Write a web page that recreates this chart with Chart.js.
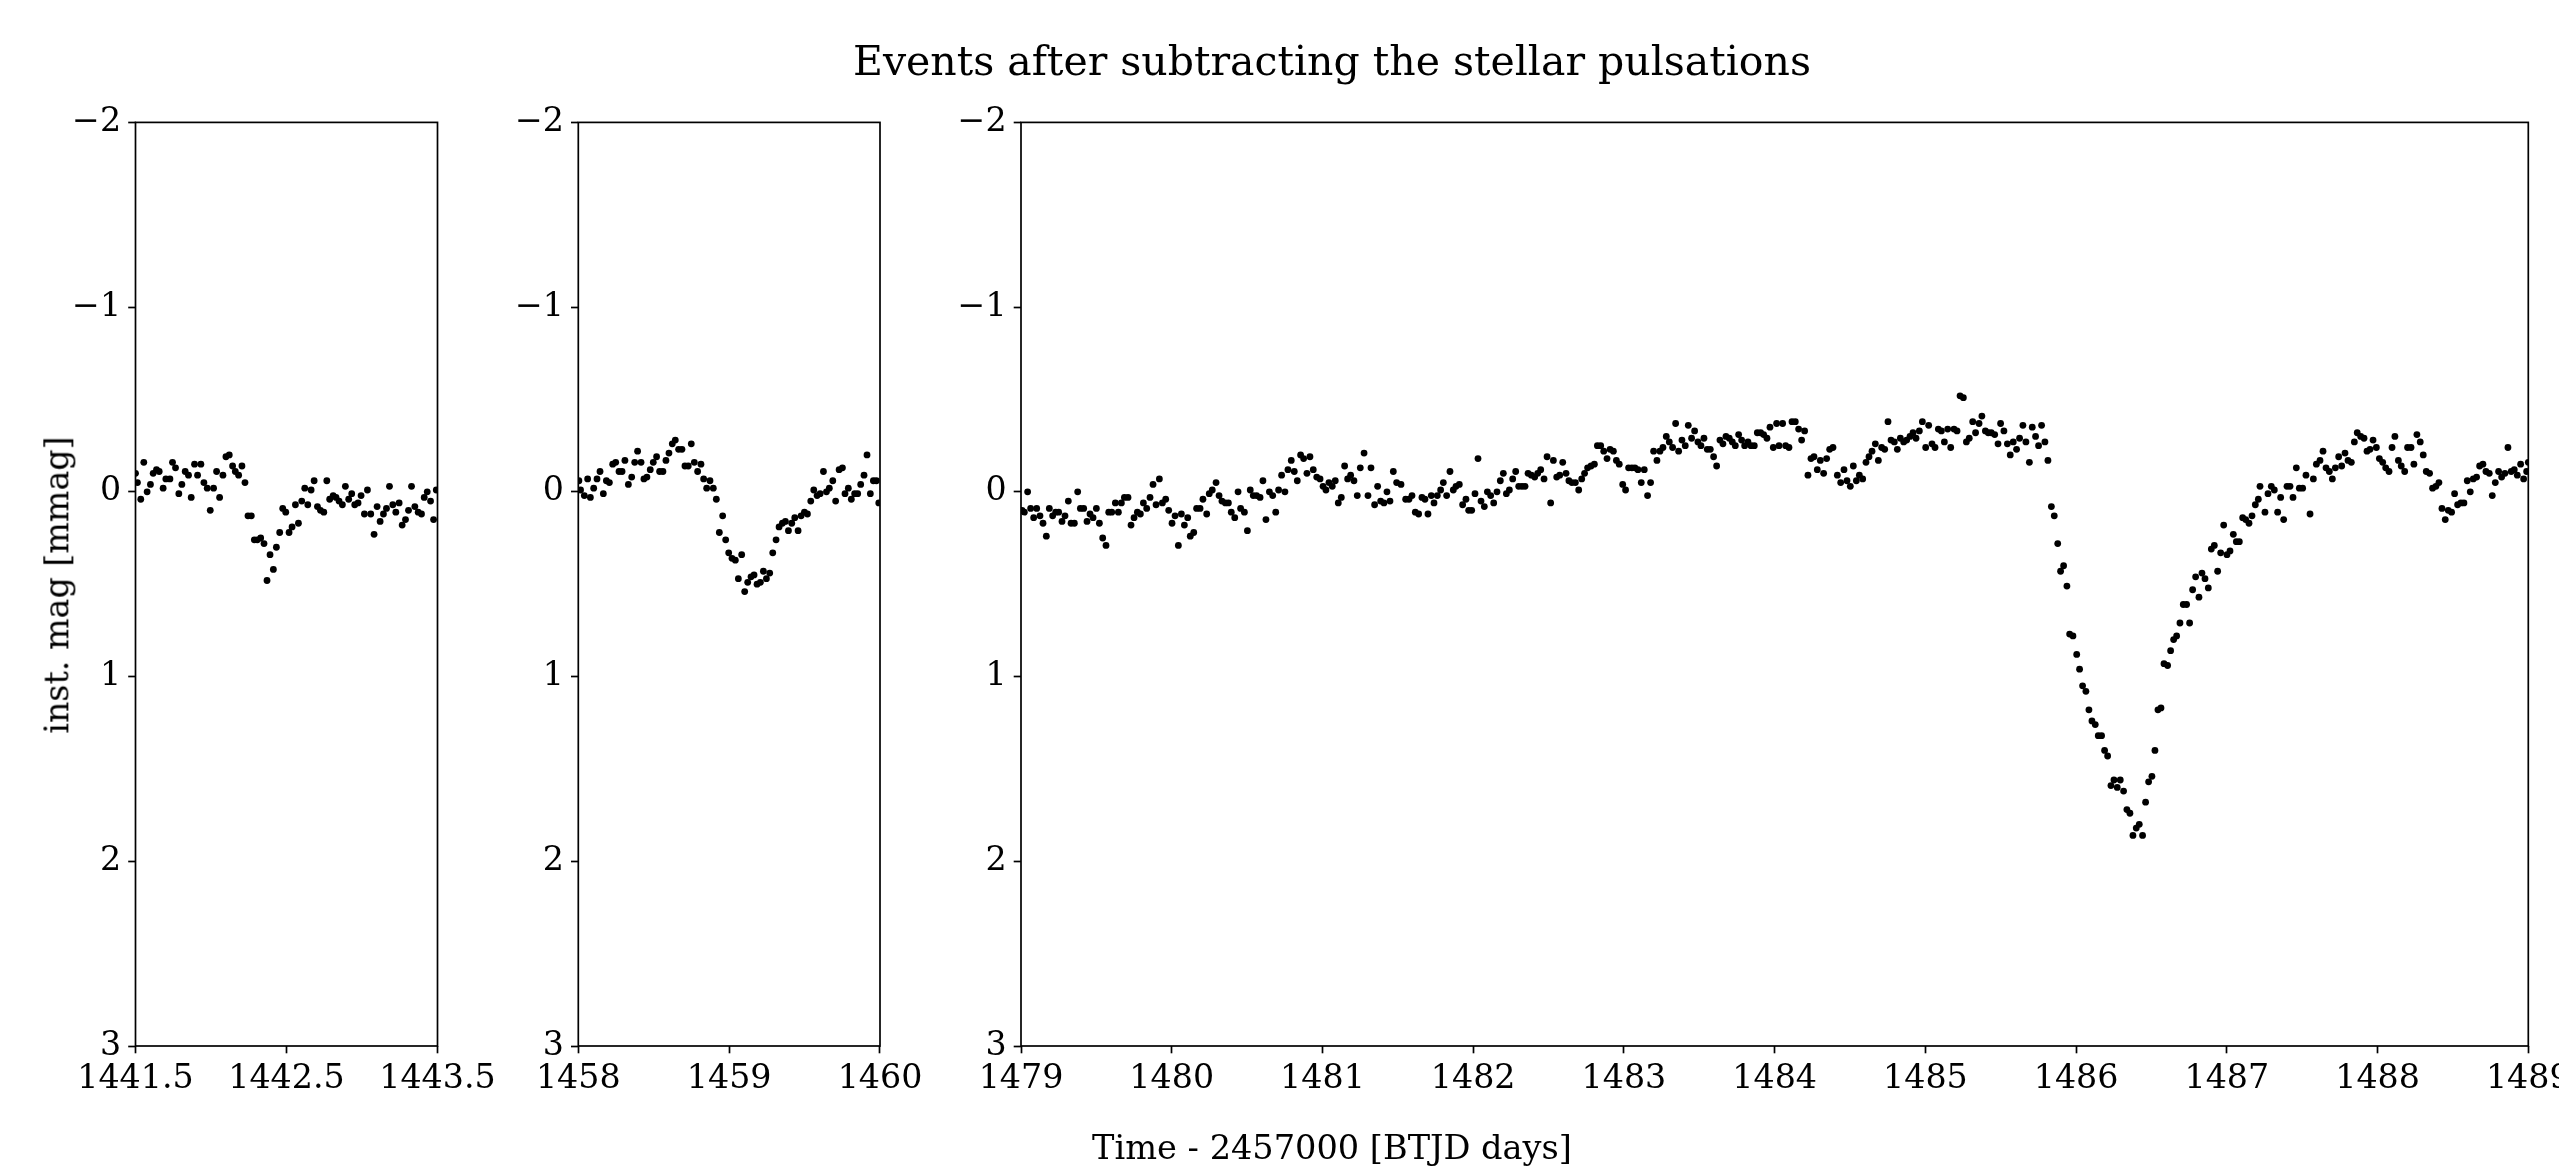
<!DOCTYPE html>
<html lang="en">
<head>
<meta charset="UTF-8">
<title>Events after subtracting the stellar pulsations</title>
<script src="https://cdn.jsdelivr.net/npm/chart.js@4.4.1/dist/chart.umd.min.js"></script>
<style>
  body { margin: 0; background: #fff; }
  #fig { position: relative; width: 2559px; height: 1170px; overflow: hidden; background: #fff;
         font-family: "DejaVu Serif", serif; color: #000; }
  #fig canvas { position: absolute; left: 0; top: 0; }
  .txt { position: absolute; white-space: nowrap; line-height: 1; }
  #title { left: 1332px; top: 41px; font-size: 41px; transform: translateX(-50%); }
  #xlabel { left: 1332px; top: 1131px; font-size: 33.6px; transform: translateX(-50%); }
  #ylabel { left: 57px; top: 585px; font-size: 33.3px; transform: translate(-50%, -50%) rotate(-90deg); }
</style>
</head>
<body>
<div id="fig">
  <!-- canvases are wider than the figure so the last tick label can run off the edge -->
  <canvas id="c1" width="2700" height="1170"></canvas>
  <canvas id="c2" width="2700" height="1170"></canvas>
  <canvas id="c3" width="2700" height="1170"></canvas>
  <div class="txt" id="title">Events after subtracting the stellar pulsations</div>
  <div class="txt" id="xlabel">Time - 2457000 [BTJD days]</div>
  <div class="txt" id="ylabel">inst. mag [mmag]</div>
</div>

<script>
// ---- data (time in BTJD days, magnitude in mmag) ----
const yTicks = [-2, -1, 0, 1, 2, 3];

const p1Ticks = [1441.5, 1442.5, 1443.5];
const p1Time = [1441.500,1441.513,1441.535,1441.555,1441.577,1441.599,1441.617,1441.639,1441.657,1441.683,
  1441.701,1441.728,1441.745,1441.765,1441.787,1441.807,1441.829,1441.851,1441.869,1441.891,
  1441.911,1441.933,1441.953,1441.975,1441.995,1442.017,1442.037,1442.057,1442.079,1442.099,
  1442.121,1442.143,1442.161,1442.183,1442.205,1442.225,1442.245,1442.267,1442.287,1442.307,
  1442.329,1442.351,1442.371,1442.391,1442.413,1442.433,1442.455,1442.475,1442.495,1442.517,
  1442.537,1442.559,1442.579,1442.601,1442.621,1442.641,1442.663,1442.683,1442.705,1442.725,
  1442.747,1442.767,1442.786,1442.809,1442.828,1442.848,1442.870,1442.890,1442.912,1442.932,
  1442.952,1442.974,1442.994,1443.016,1443.036,1443.058,1443.080,1443.100,1443.120,1443.142,
  1443.162,1443.182,1443.204,1443.224,1443.246,1443.266,1443.288,1443.308,1443.328,1443.350,
  1443.372,1443.394,1443.412,1443.432,1443.454,1443.474,1443.492];
const p1Mag = [-0.10,-0.05,0.04,-0.16,0.00,-0.04,-0.10,-0.12,-0.11,-0.02,
  -0.07,-0.07,-0.16,-0.13,0.01,-0.04,-0.11,-0.09,0.03,-0.15,
  -0.09,-0.15,-0.05,-0.02,0.10,-0.02,-0.11,0.03,-0.09,-0.19,
  -0.20,-0.14,-0.11,-0.09,-0.14,-0.05,0.13,0.13,0.26,0.26,
  0.25,0.28,0.48,0.34,0.42,0.30,0.22,0.09,0.11,0.22,
  0.19,0.07,0.17,0.05,-0.02,0.07,-0.01,-0.06,0.08,0.10,
  0.11,-0.06,0.04,0.02,0.03,0.05,0.07,-0.03,0.04,0.01,
  0.07,0.06,0.02,0.12,-0.01,0.12,0.23,0.08,0.16,0.12,
  0.09,-0.03,0.07,0.11,0.06,0.18,0.15,0.10,-0.03,0.08,
  0.11,0.12,0.03,0.00,0.05,0.15,-0.01];

const p2Ticks = [1458, 1459, 1460];
const p2Time = [1458.004,1458.015,1458.040,1458.062,1458.080,1458.102,1458.124,1458.144,1458.166,1458.186,
  1458.206,1458.228,1458.248,1458.270,1458.290,1458.309,1458.332,1458.354,1458.374,1458.393,
  1458.416,1458.435,1458.455,1458.477,1458.497,1458.519,1458.539,1458.561,1458.581,1458.601,
  1458.623,1458.643,1458.665,1458.687,1458.707,1458.729,1458.749,1458.769,1458.791,1458.813,
  1458.831,1458.851,1458.873,1458.895,1458.915,1458.935,1458.957,1458.977,1458.997,1459.019,
  1459.041,1459.061,1459.083,1459.103,1459.123,1459.145,1459.165,1459.185,1459.207,1459.227,
  1459.247,1459.269,1459.289,1459.311,1459.331,1459.353,1459.373,1459.393,1459.415,1459.435,
  1459.457,1459.477,1459.499,1459.519,1459.541,1459.561,1459.583,1459.603,1459.625,1459.645,
  1459.664,1459.687,1459.706,1459.729,1459.751,1459.768,1459.790,1459.810,1459.832,1459.852,
  1459.872,1459.894,1459.914,1459.936,1459.956,1459.976,1459.992];
const p2Mag = [-0.06,-0.01,0.02,-0.07,0.03,-0.02,-0.07,-0.11,0.01,-0.06,
  -0.05,-0.15,-0.16,-0.11,-0.11,-0.17,-0.04,-0.08,-0.16,-0.22,
  -0.16,-0.07,-0.08,-0.12,-0.16,-0.19,-0.11,-0.11,-0.17,-0.21,
  -0.26,-0.28,-0.23,-0.23,-0.14,-0.14,-0.26,-0.16,-0.11,-0.15,
  -0.07,-0.02,-0.06,-0.02,0.04,0.22,0.13,0.26,0.33,0.36,
  0.37,0.47,0.34,0.54,0.49,0.46,0.45,0.50,0.49,0.43,
  0.47,0.44,0.33,0.26,0.19,0.17,0.16,0.21,0.17,0.14,
  0.21,0.13,0.11,0.12,0.05,-0.01,0.02,0.01,-0.11,0.00,
  -0.02,-0.06,0.05,-0.12,-0.13,0.01,-0.02,0.04,0.01,0.01,
  -0.04,-0.09,-0.20,0.01,-0.06,-0.06,0.06];

const p3Ticks = [1479, 1480, 1481, 1482, 1483, 1484, 1485, 1486, 1487, 1488, 1489];
const p3Time = [1479.007,1479.022,1479.044,1479.064,1479.084,1479.104,1479.126,1479.146,1479.168,1479.188,
  1479.210,1479.230,1479.250,1479.272,1479.292,1479.314,1479.332,1479.354,1479.376,1479.394,
  1479.416,1479.438,1479.458,1479.478,1479.500,1479.520,1479.542,1479.564,1479.582,1479.602,
  1479.626,1479.646,1479.666,1479.686,1479.710,1479.730,1479.750,1479.772,1479.792,1479.812,
  1479.834,1479.856,1479.876,1479.896,1479.918,1479.938,1479.960,1479.980,1480.002,1480.022,
  1480.044,1480.064,1480.084,1480.106,1480.123,1480.146,1480.165,1480.188,1480.207,1480.232,
  1480.249,1480.269,1480.294,1480.314,1480.333,1480.356,1480.376,1480.395,1480.418,1480.440,
  1480.457,1480.482,1480.502,1480.521,1480.541,1480.563,1480.586,1480.605,1480.625,1480.648,
  1480.670,1480.690,1480.709,1480.729,1480.751,1480.771,1480.793,1480.813,1480.833,1480.855,
  1480.875,1480.897,1480.917,1480.939,1480.962,1480.984,1481.004,1481.023,1481.043,1481.065,
  1481.085,1481.105,1481.125,1481.147,1481.167,1481.187,1481.209,1481.231,1481.251,1481.276,
  1481.302,1481.322,1481.346,1481.366,1481.386,1481.408,1481.428,1481.448,1481.470,1481.492,
  1481.521,1481.552,1481.574,1481.594,1481.616,1481.638,1481.660,1481.680,1481.700,1481.722,
  1481.740,1481.762,1481.784,1481.802,1481.824,1481.846,1481.868,1481.886,1481.908,1481.930,
  1481.952,1481.970,1481.990,1482.012,1482.032,1482.052,1482.074,1482.094,1482.116,1482.136,
  1482.158,1482.180,1482.200,1482.220,1482.240,1482.262,1482.282,1482.302,1482.324,1482.344,
  1482.364,1482.386,1482.408,1482.428,1482.448,1482.470,1482.490,1482.514,1482.532,1482.554,
  1482.574,1482.594,1482.616,1482.635,1482.655,1482.678,1482.700,1482.720,1482.739,1482.759,
  1482.782,1482.804,1482.824,1482.846,1482.866,1482.888,1482.908,1482.930,1482.950,1482.969,
  1482.992,1483.011,1483.031,1483.053,1483.073,1483.093,1483.115,1483.135,1483.157,1483.177,
  1483.197,1483.219,1483.239,1483.259,1483.281,1483.301,1483.323,1483.343,1483.363,1483.385,
  1483.407,1483.427,1483.449,1483.469,1483.491,1483.511,1483.531,1483.553,1483.573,1483.595,
  1483.615,1483.637,1483.657,1483.677,1483.699,1483.719,1483.739,1483.761,1483.781,1483.801,
  1483.823,1483.843,1483.865,1483.885,1483.907,1483.927,1483.949,1483.969,1483.991,1484.013,
  1484.029,
  1484.053,1484.073,1484.095,1484.115,1484.137,1484.159,1484.179,1484.199,1484.221,1484.241,
  1484.261,1484.283,1484.303,1484.325,1484.345,1484.365,1484.387,1484.416,1484.438,1484.460,
  1484.480,1484.502,1484.522,1484.542,1484.562,1484.584,1484.606,1484.626,1484.646,1484.668,
  1484.688,1484.710,1484.730,1484.752,1484.772,1484.794,1484.814,1484.834,1484.856,1484.876,
  1484.898,1484.918,1484.938,1484.960,1484.980,1485.002,1485.022,1485.044,1485.064,1485.086,
  1485.106,1485.126,1485.148,1485.168,1485.190,1485.210,1485.230,1485.252,1485.272,1485.291,
  1485.314,1485.333,1485.356,1485.375,1485.398,1485.417,1485.437,1485.460,1485.482,1485.499,
  1485.521,1485.544,1485.563,1485.583,1485.605,1485.625,1485.647,1485.667,1485.690,1485.709,
  1485.731,1485.751,1485.771,1485.793,1485.813,1485.836,1485.855,1485.878,1485.897,1485.917,
  1485.939,1485.957,1485.979,1486.004,1486.023,1486.043,1486.065,1486.085,1486.105,1486.127,
  1486.147,1486.169,1486.189,1486.209,1486.231,1486.251,1486.273,1486.293,1486.315,1486.337,
  1486.357,1486.377,1486.399,1486.419,1486.441,1486.461,1486.481,1486.503,1486.523,1486.543,
  1486.563,1486.583,1486.607,1486.627,1486.647,1486.667,1486.689,1486.711,1486.733,1486.753,
  1486.773,1486.793,1486.815,1486.835,1486.855,1486.877,1486.897,1486.917,1486.939,1486.959,
  1486.979,1487.001,1487.021,1487.043,1487.063,1487.083,1487.105,1487.125,1487.147,1487.167,
  1487.189,1487.209,1487.220,
  1487.253,1487.273,1487.295,1487.315,1487.337,1487.357,1487.377,1487.399,1487.419,1487.439,
  1487.461,1487.481,1487.503,1487.525,1487.552,1487.574,1487.594,1487.618,1487.638,1487.658,
  1487.680,1487.700,1487.720,1487.742,1487.762,1487.784,1487.804,1487.826,1487.846,1487.865,
  1487.888,1487.910,1487.930,1487.950,1487.970,1487.992,1488.012,1488.034,1488.054,1488.076,
  1488.096,1488.115,1488.138,1488.157,1488.180,1488.199,1488.222,1488.241,1488.261,1488.283,
  1488.303,1488.323,1488.345,1488.365,1488.387,1488.407,1488.427,1488.449,1488.469,1488.491,
  1488.511,1488.531,1488.553,1488.573,1488.595,1488.615,1488.635,1488.657,1488.677,1488.699,
  1488.719,1488.741,1488.761,1488.781,1488.803,1488.823,1488.845,1488.865,1488.887,1488.907,
  1488.927,1488.949,1488.969,1488.989,1489.000];
const p3Mag = [0.10,0.11,0.00,0.09,0.14,0.09,0.13,0.17,0.24,0.09,
  0.13,0.11,0.11,0.16,0.13,0.05,0.17,0.17,0.00,0.09,
  0.09,0.16,0.12,0.14,0.09,0.17,0.25,0.29,0.11,0.11,
  0.06,0.11,0.06,0.03,0.03,0.18,0.14,0.11,0.12,0.06,
  0.09,0.03,-0.04,0.07,-0.07,0.06,0.04,0.10,0.17,0.13,
  0.29,0.12,0.18,0.14,0.24,0.22,0.09,0.09,0.04,0.12,
  0.01,-0.01,-0.05,0.02,0.05,0.06,0.06,0.11,0.14,0.00,
  0.09,0.11,0.21,-0.01,0.02,0.02,0.03,-0.06,0.15,0.00,
  0.02,0.11,-0.01,-0.09,0.00,-0.12,-0.17,-0.11,-0.06,-0.20,
  -0.18,-0.10,-0.19,-0.12,-0.08,-0.07,-0.03,-0.01,-0.05,-0.03,
  -0.06,0.06,0.03,-0.14,-0.07,-0.09,-0.06,0.02,-0.13,-0.21,
  0.02,-0.13,0.07,-0.03,0.05,0.06,0.00,0.05,-0.11,-0.05,
  -0.04,0.04,0.04,0.02,0.11,0.12,0.03,0.04,0.12,0.02,
  0.06,0.02,-0.01,-0.05,0.02,-0.11,-0.01,-0.03,-0.04,0.07,
  0.04,0.10,0.10,0.01,-0.18,0.05,0.08,0.00,0.02,0.06,
  0.00,-0.06,-0.10,0.01,-0.01,-0.07,-0.11,-0.03,-0.03,-0.03,
  -0.10,-0.09,-0.08,-0.10,-0.12,-0.07,-0.19,0.06,-0.17,-0.08,
  -0.09,-0.16,-0.10,-0.06,-0.05,-0.05,-0.01,-0.07,-0.10,-0.13,
  -0.14,-0.15,-0.25,-0.25,-0.22,-0.18,-0.23,-0.22,-0.17,-0.15,
  -0.04,-0.01,-0.13,-0.13,-0.13,-0.12,-0.05,-0.12,0.02,-0.05,
  -0.22,-0.17,-0.22,-0.24,-0.30,-0.27,-0.24,-0.37,-0.22,-0.28,
  -0.25,-0.36,-0.29,-0.33,-0.27,-0.25,-0.29,-0.23,-0.23,-0.19,
  -0.14,-0.28,-0.26,-0.30,-0.29,-0.27,-0.25,-0.31,-0.28,-0.25,
  -0.27,-0.25,-0.25,-0.32,-0.32,-0.31,-0.29,-0.35,-0.24,-0.37,
  -0.25,
  -0.37,-0.25,-0.24,-0.38,-0.38,-0.34,-0.28,-0.33,-0.09,-0.18,
  -0.19,-0.12,-0.17,-0.10,-0.18,-0.23,-0.24,-0.09,-0.05,-0.12,
  -0.06,-0.03,-0.14,-0.06,-0.09,-0.07,-0.16,-0.19,-0.22,-0.26,
  -0.17,-0.24,-0.23,-0.38,-0.28,-0.27,-0.23,-0.29,-0.27,-0.28,
  -0.30,-0.32,-0.29,-0.33,-0.38,-0.24,-0.36,-0.26,-0.24,-0.34,
  -0.33,-0.27,-0.34,-0.24,-0.34,-0.33,-0.52,-0.51,-0.27,-0.29,
  -0.38,-0.32,-0.37,-0.41,-0.33,-0.32,-0.32,-0.31,-0.26,-0.37,
  -0.33,-0.26,-0.20,-0.27,-0.23,-0.29,-0.36,-0.27,-0.16,-0.35,
  -0.30,-0.25,-0.36,-0.27,-0.17,0.08,0.13,0.28,0.43,0.40,
  0.51,0.77,0.78,0.88,0.96,1.05,1.08,1.18,1.24,1.26,
  1.32,1.32,1.40,1.43,1.59,1.56,1.60,1.56,1.62,1.72,
  1.74,1.86,1.82,1.80,1.86,1.68,1.57,1.54,1.40,1.18,
  1.17,0.93,0.94,0.86,0.80,0.78,0.71,0.61,0.61,0.71,
  0.53,0.46,0.57,0.44,0.47,0.52,0.31,0.29,0.43,0.33,
  0.18,0.34,0.32,0.23,0.27,0.27,0.14,0.15,0.17,0.13,
  0.07,0.04,-0.03,
  0.11,0.01,-0.03,-0.01,0.11,0.03,0.15,-0.03,-0.03,0.03,
  -0.13,-0.02,-0.02,-0.09,0.12,-0.07,-0.15,-0.17,-0.22,-0.13,
  -0.11,-0.07,-0.13,-0.19,-0.14,-0.21,-0.17,-0.16,-0.27,-0.32,
  -0.30,-0.29,-0.22,-0.23,-0.28,-0.24,-0.18,-0.16,-0.13,-0.11,
  -0.24,-0.30,-0.17,-0.14,-0.11,-0.24,-0.24,-0.15,-0.31,-0.27,
  -0.20,-0.11,-0.10,-0.02,-0.03,-0.05,0.09,0.15,0.10,0.11,
  0.01,0.07,0.06,0.06,-0.06,0.00,-0.07,-0.08,-0.14,-0.15,
  -0.11,-0.10,0.02,-0.05,-0.11,-0.08,-0.10,-0.24,-0.11,-0.12,
  -0.09,-0.15,-0.07,-0.11,-0.16];

// ---- layout (pixels) ----
const CANVAS_W = 2700, CANVAS_H = 1170;
const PLOT_TOP = 122.4, PLOT_BOTTOM = 1046;
const Y_AXIS_W = 110, X_AXIS_H = 80;
const tickFont = { family: 'DejaVu Serif', size: 33.3 };

// matplotlib-like box around each axes
const frame = {
  id: 'frame',
  afterDatasetsDraw(chart) {
    const a = chart.chartArea, ctx = chart.ctx;
    ctx.save();
    ctx.strokeStyle = '#000';
    ctx.lineWidth = 1.7;
    ctx.strokeRect(a.left, a.top, a.right - a.left, a.bottom - a.top);
    ctx.restore();
  }
};

function minusLabel(v) {
  return v < 0 ? '\u2212' + (-v) : String(v);
}

function makePanel(id, time, mag, xTicks, left, right) {
  const tickGrid = { display: true, drawOnChartArea: false, drawTicks: true,
                     tickLength: 7.3, tickColor: '#000', tickWidth: 1.7 };
  new Chart(document.getElementById(id), {
    type: 'scatter',
    data: {
      datasets: [{
        data: time.map((t, i) => ({ x: t, y: mag[i] })),
        pointRadius: 3.4,
        pointHoverRadius: 3.4,
        backgroundColor: '#000',
        borderWidth: 0
      }]
    },
    options: {
      responsive: false,
      animation: false,
      events: [],
      layout: {
        padding: {
          left: left - Y_AXIS_W,
          right: CANVAS_W - right,
          top: PLOT_TOP,
          bottom: CANVAS_H - PLOT_BOTTOM - X_AXIS_H
        }
      },
      plugins: { legend: { display: false }, tooltip: { enabled: false } },
      scales: {
        x: {
          type: 'linear',
          min: xTicks[0],
          max: xTicks[xTicks.length - 1],
          afterBuildTicks: s => { s.ticks = xTicks.map(v => ({ value: v })); },
          afterFit: s => { s.height = X_AXIS_H; },
          grid: tickGrid,
          border: { display: false },
          ticks: { autoSkip: false, maxRotation: 0, padding: 6, color: '#000',
                   font: tickFont, callback: v => String(v) }
        },
        y: {
          type: 'linear',
          reverse: true,
          min: yTicks[0],
          max: yTicks[yTicks.length - 1],
          afterBuildTicks: s => { s.ticks = yTicks.map(v => ({ value: v })); },
          afterFit: s => { s.width = Y_AXIS_W; },
          grid: tickGrid,
          border: { display: false },
          ticks: { autoSkip: false, padding: 7, color: '#000',
                   font: tickFont, callback: minusLabel }
        }
      }
    },
    plugins: [frame]
  });
}

makePanel('c1', p1Time, p1Mag, p1Ticks, 135.5, 437.5);
makePanel('c2', p2Time, p2Mag, p2Ticks, 578.3, 880);
makePanel('c3', p3Time, p3Mag, p3Ticks, 1021, 2528.3);
</script>
</body>
</html>
